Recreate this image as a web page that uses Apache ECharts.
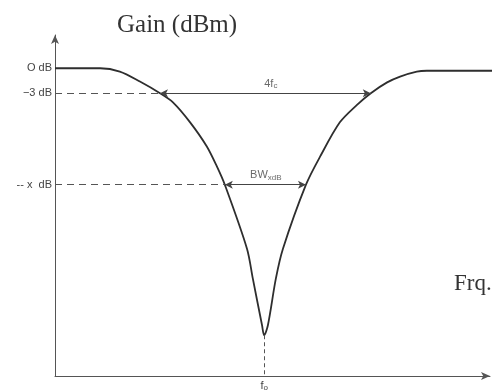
<!DOCTYPE html>
<html>
<head>
<meta charset="utf-8">
<script src="https://cdn.jsdelivr.net/npm/echarts@6/dist/echarts.min.js"></script>
<style>
  html, body { margin: 0; padding: 0; background: #ffffff; }
  #chart { width: 501px; height: 392px; }
</style>
</head>
<body>
<div id="chart"></div>
<script>
// Notch (band-stop) filter response, gain in dB versus frequency (arbitrary units, f0 = 50)
const freq = [0, 10.8, 15.5, 20.3, 25.1, 28.2, 32.3, 36.3, 38.7, 40.6, 45.9, 47.3, 49.5, 50,
              50.9, 52.8, 54.5, 60.0, 63.4, 68.1, 72.2, 75.5, 79.4, 82.5, 86.5, 88.9, 106.6];
const gain = [0, 0, -0.4, -1.6, -3, -4.1, -6.5, -9.4, -11.8, -14, -21.7, -25.3, -30.9, -32.1,
              -30.9, -25.3, -21.7, -14, -10.6, -6.5, -4.4, -3, -1.7, -1.0, -0.4, -0.3, -0.3];

// Reference levels on the gain axis
const tickLevels = [0, -3, -14];
const tickNames = ['O dB', '\u22123 dB', '-- x  dB'];

// Centre frequency and the band edges at -3 dB and at -x dB
const f0 = 50;
const band3 = [25.1, 75.5];
const bandX = [40.6, 60.0];

// Annotation texts and where they sit
const notes = [
  { pos: [51.6, -1.85], text: '{a|4f}{s|c}' },
  { pos: [50.4, -12.85], text: '{a|BW}{s|xdB}' }
];

const ink = '#2e2e2e';
const guide = '#555555';
const fs = 'Liberation Sans, Arial, sans-serif';

const chart = echarts.init(document.getElementById('chart'), null, { renderer: 'canvas' });

const dashed = (x1, y1, x2, y2) => [
  { coord: [x1, y1], symbol: 'none' },
  { coord: [x2, y2], symbol: 'none', lineStyle: { type: [7, 5], width: 1, color: guide } }
];
const arrow = (x1, x2, y) => [
  { coord: [x1, y], symbol: 'arrow' },
  { coord: [x2, y], symbol: 'arrow', lineStyle: { type: 'solid', width: 1, color: '#444' } }
];

chart.setOption({
  animation: false,
  backgroundColor: '#ffffff',
  title: [
    { text: 'Gain (dBm)', left: 117, top: 13, padding: 0,
      textStyle: { fontFamily: 'Liberation Serif, Times New Roman, serif', fontWeight: 'normal', fontSize: 25, color: '#333' } },
    { text: 'Frq.', left: 454, top: 272, padding: 0,
      textStyle: { fontFamily: 'Liberation Serif, Times New Roman, serif', fontWeight: 'normal', fontSize: 23, color: '#333' } }
  ],
  grid: { left: 55, right: 11, top: 35, bottom: 14 },
  xAxis: {
    type: 'value', min: 0, max: 104,
    splitLine: { show: false },
    axisLine: { show: true, onZero: false, lineStyle: { color: guide, width: 1 }, symbol: ['none', 'arrow'], symbolSize: [6, 9] },
    axisTick: { show: false },
    axisLabel: {
      show: true, customValues: [f0], margin: 4,
      formatter: () => '{a|f}{s|o}',
      rich: {
        a: { fontFamily: fs, fontSize: 11, color: '#444' },
        s: { fontFamily: fs, fontSize: 8, color: '#444', padding: [4, 0, 0, 0] }
      }
    }
  },
  yAxis: {
    type: 'value', min: -37, max: 4,
    splitLine: { show: false },
    axisLine: { show: true, onZero: false, lineStyle: { color: guide, width: 1 }, symbol: ['none', 'arrow'], symbolSize: [6, 9] },
    axisTick: { show: true, customValues: tickLevels, inside: true, length: 3, lineStyle: { color: guide } },
    axisLabel: {
      show: true, customValues: tickLevels, margin: 3,
      fontFamily: fs, fontSize: 11, color: '#444',
      formatter: v => tickNames[tickLevels.indexOf(v)] ?? ''
    }
  },
  series: [
    {
      name: 'gain',
      type: 'line',
      data: freq.map((f, i) => [f, gain[i]]),
      smooth: 0.3,
      symbol: 'none',
      clip: false,
      lineStyle: { color: ink, width: 1.8 },
      markLine: {
        silent: true,
        symbolSize: [6, 8],
        label: { show: false },
        lineStyle: { color: guide, width: 1 },
        data: [
          dashed(0, tickLevels[1], band3[0], tickLevels[1]),
          arrow(band3[0], band3[1], tickLevels[1]),
          dashed(0, tickLevels[2], bandX[0], tickLevels[2]),
          arrow(bandX[0], bandX[1], tickLevels[2]),
          [
            { coord: [f0, gain[freq.indexOf(f0)]], symbol: 'none' },
            { coord: [f0, -37], symbol: 'none', lineStyle: { type: [4, 3], width: 1, color: guide } }
          ]
        ]
      }
    },
    {
      name: 'notes',
      type: 'scatter',
      symbolSize: 0,
      silent: true,
      data: notes.map(n => ({
        value: n.pos,
        label: {
          show: true, position: 'inside', formatter: n.text,
          rich: {
            a: { fontFamily: fs, fontSize: 11, color: '#444' },
            s: { fontFamily: fs, fontSize: 8, color: '#444', padding: [5, 0, 0, 0] }
          }
        }
      }))
    }
  ]
});
</script>
</body>
</html>
